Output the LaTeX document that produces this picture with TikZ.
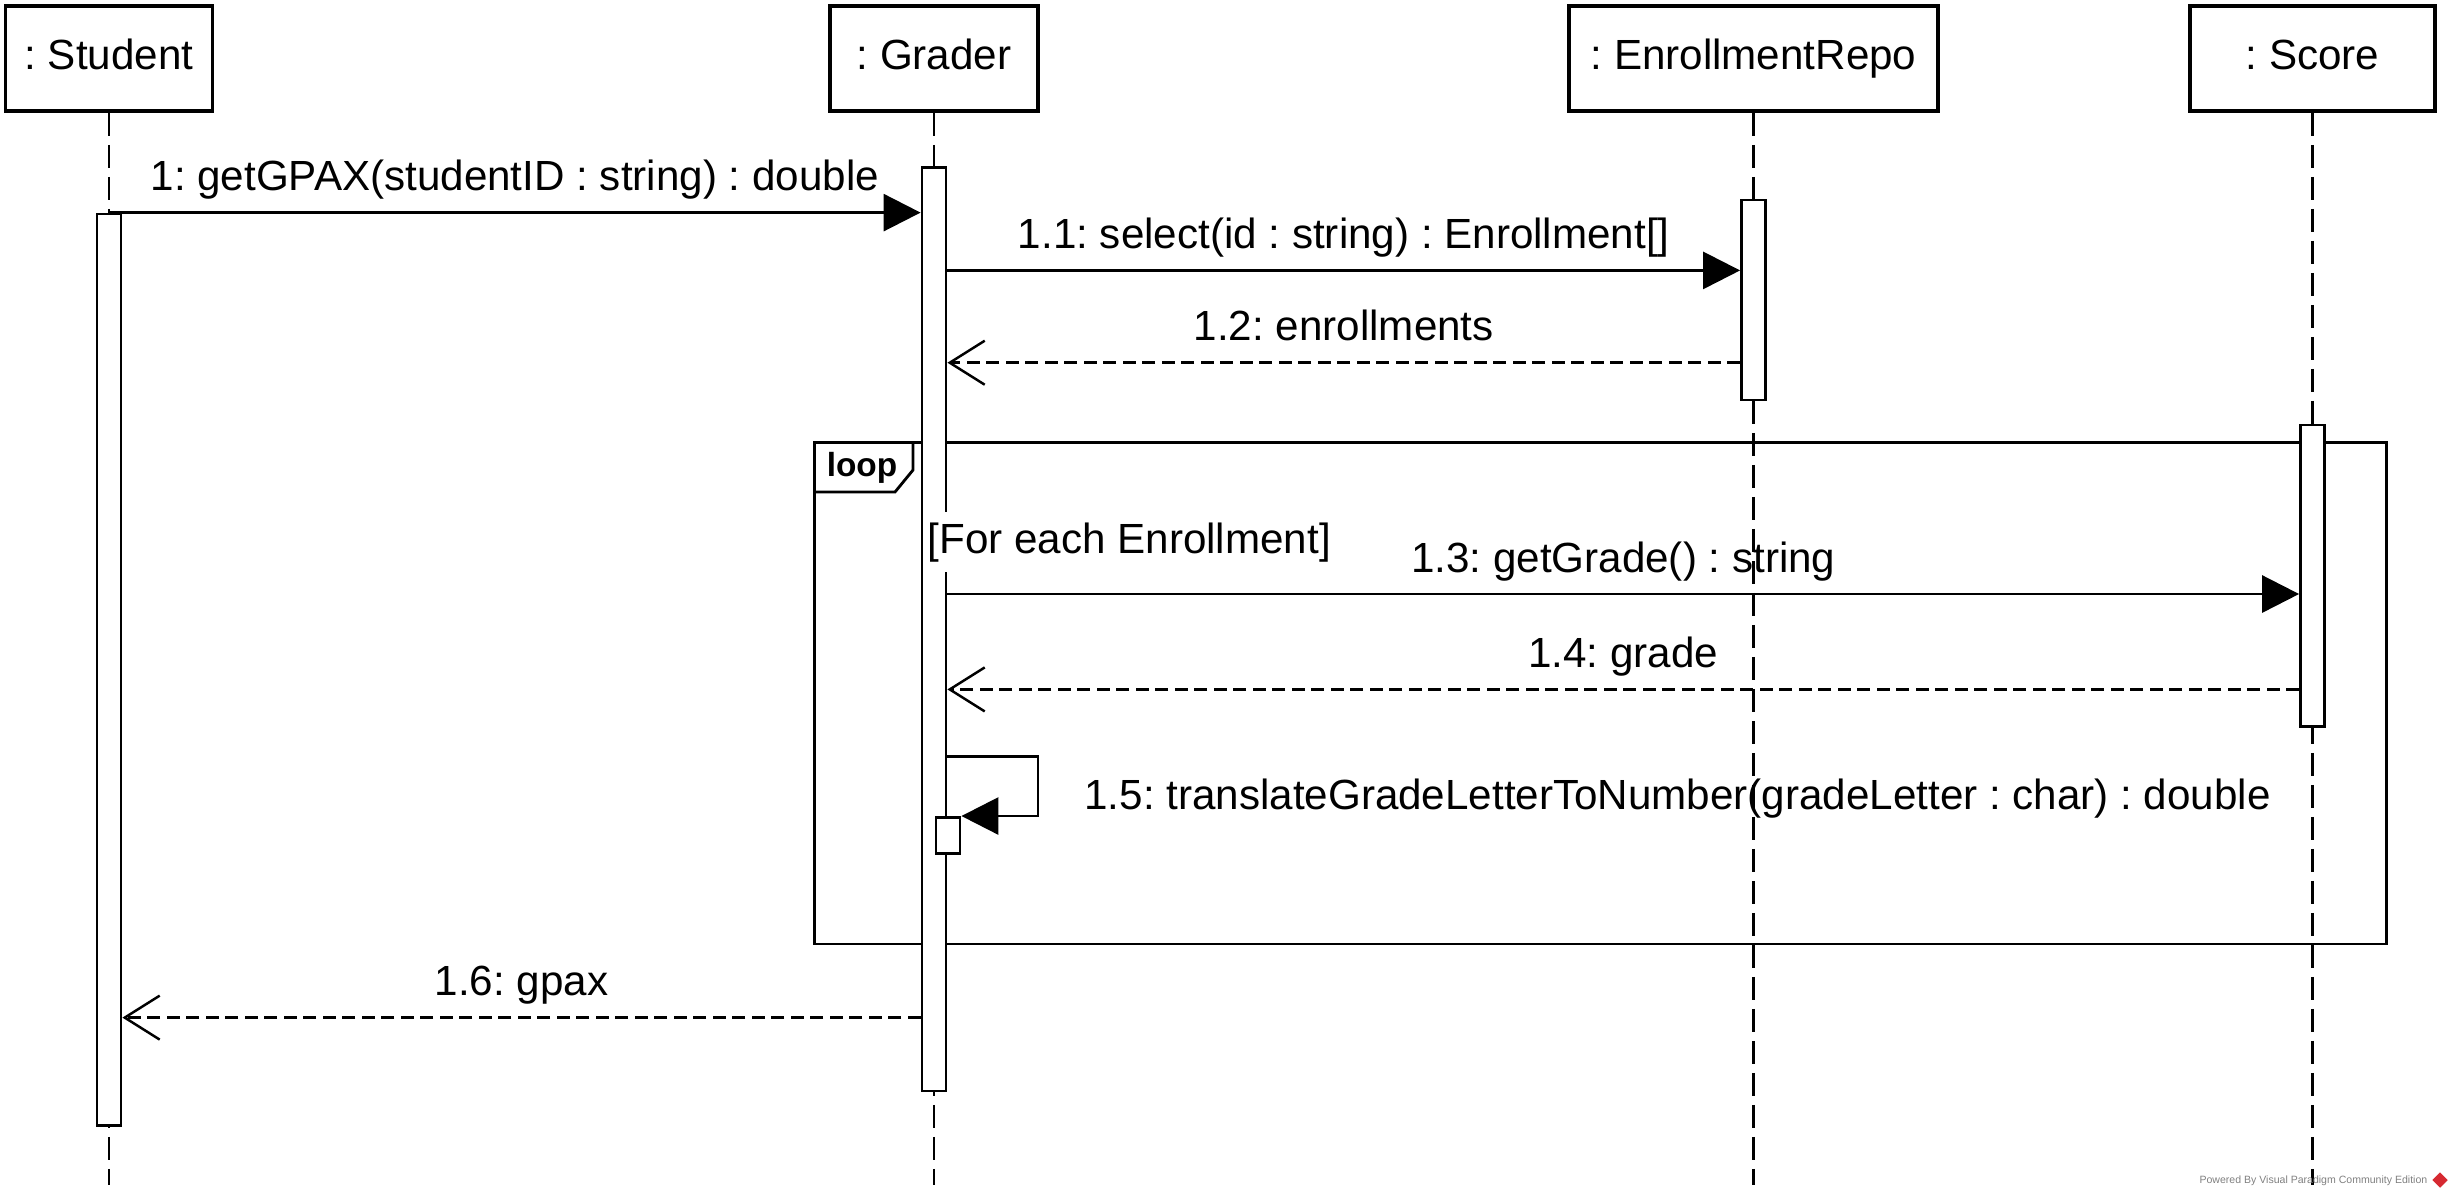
\documentclass[tikz,border=0pt]{standalone}
\usepackage{fontspec}
\setmainfont{Liberation Sans}
\usetikzlibrary{arrows.meta,positioning,shapes.geometric}
\definecolor{vpred}{RGB}{214,41,49}
\frenchspacing

\begin{document}
\begin{tikzpicture}[
    font=\fontsize{12}{14}\selectfont,
    obj/.style={draw, line width=1pt, minimum height=1.05cm, inner sep=0pt,
        text height=0.31cm, text depth=0.09cm},
    act/.style={draw, fill=white, line width=0.8pt, minimum width=0.24cm, inner sep=0pt},
    frame/.style={draw, line width=0.8pt, inner sep=0pt},
    life/.style={line width=0.75pt, dash pattern=on 0.23cm off 0.09cm},
    call/.style={line width=0.8pt, -{Triangle[length=0.37cm,width=0.37cm]}},
    reply/.style={line width=0.7pt, dash pattern=on 0.13cm off 0.065cm,
        -{Straight Barb[length=0.35cm,width=0.44cm]}},
    lbl/.style={midway, anchor=base, yshift=0.22cm},
  ]
    \useasboundingbox (0,0) rectangle (24.51,-11.97);

    % objects
    \node[obj, minimum width=2.07cm] (stu) at (1.09,-0.585) {: Student};
    \node[obj, minimum width=2.08cm] (grd) at (9.34,-0.585) {: Grader};
    \node[obj, minimum width=3.69cm] (rep) at (17.535,-0.585) {: EnrollmentRepo};
    \node[obj, minimum width=2.45cm] (sco) at (23.125,-0.585) {: Score};

    % message levels
    \coordinate (bot) at (0,-11.85);
    \coordinate (y1) at (0,-2.126);
    \coordinate (y11) at (0,-2.704);
    \coordinate (y12) at (0,-3.627);
    \coordinate (y13) at (0,-5.94);
    \coordinate (y14) at (0,-6.894);
    \coordinate (y16) at (0,-10.176);
    \coordinate (selfR) at (10.38,-7.566);

    % loop fragment
    \node[frame, minimum width=15.72cm, minimum height=5.016cm, anchor=north west] (loop) at (8.13,-4.41) {};
    \draw[frame] ([xshift=1cm]loop.north west) -- ++(0,-0.29) -- ++(-0.18,-0.22)
        -- ([yshift=-0.51cm]loop.north west);
    \node[font=\bfseries\fontsize{9.5}{11}\selectfont] (looptag) at (8.62,-4.68) {loop};

    % lifelines
    \foreach \o in {stu,grd,rep,sco}
        \draw[life] (\o.south) -- (\o.south |- bot);

    % activations
    \node[act, anchor=north, minimum height=9.114cm] (aStu) at (stu.south |- y1) {};
    \node[act, anchor=north, minimum height=9.239cm] (aGrd) at (grd.south |- 0,-1.657) {};
    \node[act, anchor=north, minimum height=2.001cm] (aRep) at (rep.south |- 0,-1.985) {};
    \node[act, anchor=north, minimum height=3.017cm] (aSco) at (sco.south |- 0,-4.236) {};
    \node[act, anchor=north, minimum height=0.36cm] (aGrd2) at (9.48,-8.16) {};

    % guard
    \node[fill=white, inner xsep=0.03cm, inner ysep=0.1cm, anchor=base west] (guard)
        at (9.24,-5.53) {[For each Enrollment]};

    % messages
    \draw[call] (stu.south |- y1) -- (aGrd.west |- y1)
        node[lbl] {1: getGPAX(studentID : string) : double};
    \draw[call] (aGrd.east |- y11) -- (aRep.west |- y11)
        node[lbl] {1.1: select(id : string) : Enrollment[]};
    \draw[reply] (aRep.west |- y12) -- (aGrd.east |- y12)
        node[lbl] {1.2: enrollments};
    \draw[call] (aGrd.east |- y13) -- (aSco.west |- y13)
        node[lbl] {1.3: getGrade() : string};
    \draw[reply] (aSco.west |- y14) -- (aGrd.east |- y14)
        node[lbl] {1.4: grade};
    \draw[call] (aGrd.east |- selfR) -- (selfR) |- (aGrd2.north east);
    \node[anchor=base west] (m15) at (10.72,-8.09)
        {1.5: translateGradeLetterToNumber(gradeLetter : char) : double};
    \draw[reply] (aGrd.west |- y16) -- (aStu.east |- y16)
        node[lbl] {1.6: gpax};

    % watermark
    \node[font=\fontsize{3}{3.5}\selectfont, text=gray, anchor=east, inner sep=0pt] (vp)
        at (24.28,-11.81) {Powered By Visual Paradigm Community Edition};
    \node[diamond, fill=vpred, minimum size=0.16cm, inner sep=0pt] (logo) at (24.40,-11.80) {};
\end{tikzpicture}
\end{document}
